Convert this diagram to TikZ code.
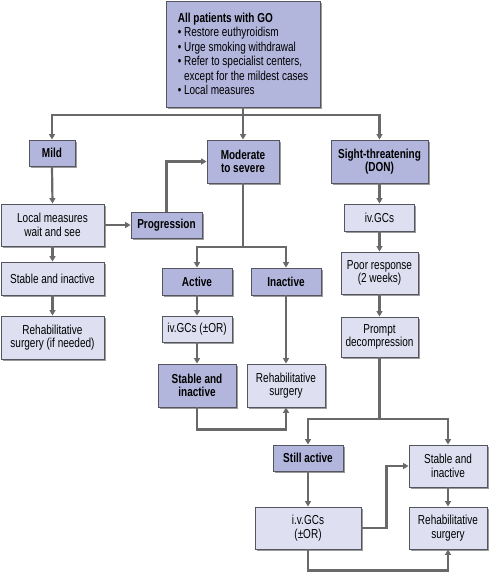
\documentclass[tikz,border=0pt]{standalone}
\usepackage{fontspec}
\setmainfont{Liberation Sans}[FakeStretch=0.77]
\usetikzlibrary{arrows.meta, shadows, positioning}
\definecolor{Oscuro}{RGB}{178,182,220}
\definecolor{Claro}{RGB}{222,224,241}
\definecolor{Borde}{RGB}{85,85,95}
\definecolor{Linea}{RGB}{105,105,105}
\newcommand{\tamtxt}{\fontsize{13}{13.6}\selectfont}

\begin{document}
\begin{tikzpicture}[x=1pt, y=-1pt,
  dblk/.style={rectangle, draw=Borde, fill=Oscuro, line width=0.9pt,
               inner sep=0pt, align=center, font=\tamtxt\bfseries,
               drop shadow={shadow xshift=1.8pt, shadow yshift=-1.8pt,
                            fill=black!60, opacity=0.65}},
  lblk/.style={dblk, fill=Claro, font=\tamtxt},
  parr/.style={-{Triangle[length=5.5pt, width=6pt]}, line width=2.2pt, color=Linea},
  pline/.style={line width=2.2pt, color=Linea}
]
\useasboundingbox (0,0) rectangle (490,572);
\fill[white] (0,0) rectangle (490,572);

%% ─── Cabecera ────────────────────────────────────────────────
\node[dblk, minimum width=154pt, minimum height=106pt,
      align=left, font=\fontsize{13}{14.5}\selectfont] (todos) at (243,54)
    {\textbf{All patients with GO}\\
     • Restore euthyroidism\\
     • Urge smoking withdrawal\\
     • Refer to specialist centers,\\
     \phantom{• }except for the mildest cases\\
     • Local measures};

%% ─── Columna 1: leve ─────────────────────────────────────────
\node[dblk, minimum width=46pt,  minimum height=26pt] (leve)       at (52,153)     {Mild};
\node[lblk, minimum width=103pt, minimum height=42pt] (locales)    at (52.5,225)   {Local measures\\wait and see};
\node[lblk, minimum width=103pt, minimum height=33pt] (estable1)   at (52.5,278.5) {Stable and inactive};
\node[lblk, minimum width=103pt, minimum height=43pt] (rehab1)     at (52.5,337.5) {Rehabilitative\\surgery (if needed)};
\node[dblk, minimum width=71pt,  minimum height=26pt] (progresion) at (166.5,225)   {Progression};

%% ─── Columna 2: moderado a grave ─────────────────────────────
\node[dblk, minimum width=72pt, minimum height=43pt] (moderado) at (243,161.5) {Moderate\\to severe};
\node[dblk, minimum width=70pt, minimum height=27pt] (activo)   at (197,281.5) {Active};
\node[dblk, minimum width=70pt, minimum height=27pt] (inactivo) at (286,281.5) {Inactive};
\node[lblk, minimum width=70pt, minimum height=26pt] (ivgc1)    at (197,329)   {iv.GCs (±OR)};
\node[dblk, minimum width=78pt, minimum height=43pt] (estable2) at (197,385.5) {Stable and\\inactive};
\node[lblk, minimum width=78pt, minimum height=43pt] (rehab2)   at (286,385.5) {Rehabilitative\\surgery};

%% ─── Columna 3: amenaza visual (DON) ─────────────────────────
\node[dblk, minimum width=97pt,  minimum height=43pt] (grave)    at (379.5,161.5) {Sight-threatening\\(DON)};
\node[lblk, minimum width=70pt,  minimum height=27pt] (ivgc2)    at (379.5,217.5) {iv.GCs};
\node[lblk, minimum width=77pt,  minimum height=42pt] (pobre)    at (379.5,273)   {Poor response\\(2 weeks)};
\node[lblk, minimum width=77pt,  minimum height=40pt] (pronta)   at (379.5,337)   {Prompt\\decompression};
\node[dblk, minimum width=70pt,  minimum height=26pt] (sigue)    at (308,458)     {Still active};
\node[lblk, minimum width=78pt,  minimum height=42pt] (estable3) at (448,466)     {Stable and\\inactive};
\node[lblk, minimum width=106pt, minimum height=42pt] (ivgc3)    at (308,528)     {i.v.GCs\\(±OR)};
\node[lblk, minimum width=78pt,  minimum height=42pt] (rehab3)   at (448,528)     {Rehabilitative\\surgery};

%% ─── Conectores ──────────────────────────────────────────────
\coordinate (bus) at (243,115);
\draw[pline] (todos.south) -- (bus);
\draw[parr] (bus) -- (moderado.north);
\draw[parr] (bus) -| (leve.north);
\draw[parr] (bus) -| (grave.north);

\draw[parr] (leve.south) -- (locales.north);
\draw[parr] (locales.south) -- (estable1.north);
\draw[parr] (estable1.south) -- (rehab1.north);
\draw[parr] (locales.east) -- (progresion.west);
\draw[parr] (progresion.north) |- (moderado.west);

\coordinate (sm) at (243,247);
\draw[pline] (moderado.south) -- (sm);
\draw[parr] (sm) -| (activo.north);
\draw[parr] (sm) -| (inactivo.north);
\draw[parr] (activo.south) -- (ivgc1.north);
\draw[parr] (ivgc1.south) -- (estable2.north);
\draw[parr] (inactivo.south) -- (rehab2.north);
\draw[parr] (estable2.south) -- ++(0,22) -| (rehab2.south);

\draw[parr] (grave.south) -- (ivgc2.north);
\draw[parr] (ivgc2.south) -- (pobre.north);
\draw[parr] (pobre.south) -- (pronta.north);
\coordinate (sp) at (379.5,419);
\draw[pline] (pronta.south) -- (sp);
\draw[parr] (sp) -| (sigue.north);
\draw[parr] (sp) -| (estable3.north);
\draw[parr] (sigue.south) -- (ivgc3.north);
\draw[parr] (ivgc3.east) -- ++(25,0) |- (estable3.west);
\draw[parr] (estable3.south) -- (rehab3.north);
\draw[parr] (ivgc3.south) -- ++(0,21) -| (rehab3.south);

\end{tikzpicture}
\end{document}
